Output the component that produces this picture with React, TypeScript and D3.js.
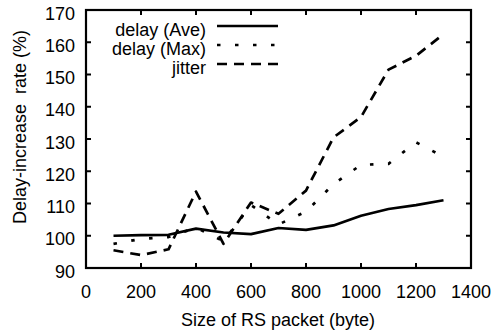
import React from "react";
import * as d3 from "d3";

const sizes = [100, 200, 300, 400, 500, 600, 700, 800, 900, 1000, 1100, 1200, 1300];
const delayAve = [100, 100.2, 100.3, 102.2, 101, 100.5, 102.4, 101.8, 103.2, 106.2, 108.3, 109.5, 111];
const delayMax = [97.5, 99, 99.6, 102.5, 98.3, 109.5, 103.5, 107.5, 116, 122, 122.3, 129, 124.5];
const jitter = [95.5, 94, 95.8, 113.7, 97.5, 110.3, 106.8, 114, 130.5, 136.8, 151.5, 155.8, 162.5];

const xTicks = [0, 200, 400, 600, 800, 1000, 1200, 1400];
const yTicks = [90, 100, 110, 120, 130, 140, 150, 160, 170];

const seriesNames = ["delay (Ave)", "delay (Max)", "jitter"];
const seriesData = [delayAve, delayMax, jitter];
const seriesDash = [null, "3.5,14.5", "10,7"];

const W = 494;
const H = 336;
const L = 86, R = 471, T = 10, B = 268;
const FONT = "'Liberation Sans', Arial, Helvetica, sans-serif";

export default function App() {
  const x = d3.scaleLinear().domain([0, 1400]).range([L, R]);
  const y = d3.scaleLinear().domain([90, 170]).range([B, T]);
  const line = d3
    .line<number>()
    .x((_, i) => x(sizes[i]))
    .y((v) => y(v));
  const tick = 5;
  return (
    <svg
      width={W}
      height={H}
      style={{ position: "fixed", left: 0, top: 0, background: "#fff" }}
      fontFamily={FONT}
      fontSize={18}
    >
      <rect x={0} y={0} width={W} height={H} fill="#fff" />
      {/* ticks */}
      {xTicks.map((t) => (
        <g key={"xt" + t}>
          <line x1={x(t)} x2={x(t)} y1={B} y2={B - tick} stroke="#000" strokeWidth={2} />
          <line x1={x(t)} x2={x(t)} y1={T} y2={T + tick} stroke="#000" strokeWidth={2} />
          <text x={x(t)} y={298} textAnchor="middle" fill="#000">
            {t}
          </text>
        </g>
      ))}
      {yTicks.map((t) => (
        <g key={"yt" + t}>
          <line x1={L} x2={L + tick} y1={y(t)} y2={y(t)} stroke="#000" strokeWidth={2} />
          <line x1={R} x2={R - tick} y1={y(t)} y2={y(t)} stroke="#000" strokeWidth={2} />
          <text x={75} y={y(t) + 9.5} textAnchor="end" fill="#000">
            {t}
          </text>
        </g>
      ))}
      {/* series */}
      {seriesData.map((d, i) => (
        <path
          key={"s" + i}
          d={line(d) || ""}
          fill="none"
          stroke="#000"
          strokeWidth={2.7}
          strokeDasharray={seriesDash[i] || undefined}
          strokeLinejoin="round"
        />
      ))}
      {/* frame */}
      <rect x={L} y={T} width={R - L} height={B - T} fill="none" stroke="#000" strokeWidth={2.2} />
      {/* legend */}
      {seriesNames.map((n, i) => {
        const ly = 26 + i * 19;
        return (
          <g key={"lg" + i}>
            <text x={206} y={ly + 10} textAnchor="end" fill="#000">
              {n}
            </text>
            <line
              x1={217}
              x2={278}
              y1={ly}
              y2={ly}
              stroke="#000"
              strokeWidth={2.7}
              strokeDasharray={seriesDash[i] || undefined}
            />
          </g>
        );
      })}
      {/* axis titles */}
      <text x={(L + R) / 2 - 0.5} y={325.5} textAnchor="middle" fill="#000">
        Size of RS packet (byte)
      </text>
      <text
        transform={`translate(26,127) rotate(-90)`}
        textAnchor="middle"
        fill="#000"
        style={{ whiteSpace: "pre" }}
      >
        {"Delay-increase  rate (%)"}
      </text>
    </svg>
  );
}
